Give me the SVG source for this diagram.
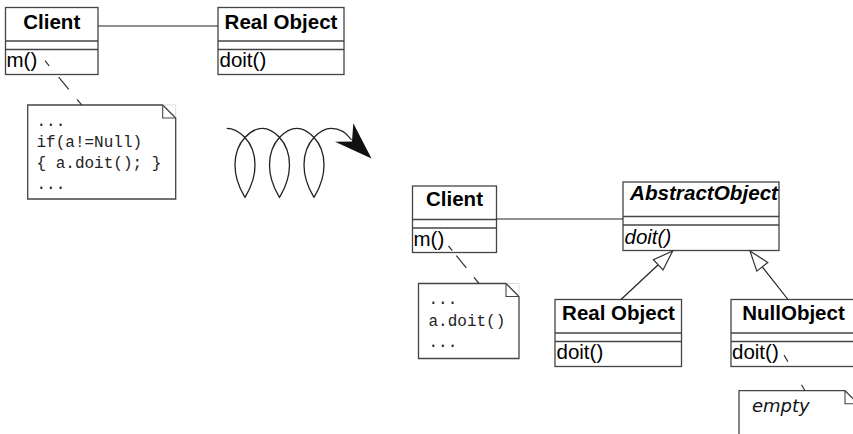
<svg xmlns="http://www.w3.org/2000/svg" width="853" height="434" viewBox="0 0 853 434">
<style>
.box{fill:#fff;stroke:#444;stroke-width:1.3}
.sep{stroke:#444;stroke-width:1.3}
.title{font-family:"Liberation Sans",Arial,sans-serif;font-weight:bold;font-size:20.5px;fill:#000;text-anchor:middle}
.meth{font-family:"Liberation Sans",Arial,sans-serif;font-size:20.5px;fill:#000}
.note{fill:#fff;stroke:#444;stroke-width:1.3}
.fold{fill:none;stroke:#444;stroke-width:1.1}
.faint{fill:none;stroke:#ddd;stroke-width:1}
.code{font-family:"Liberation Mono","Courier New",monospace;font-size:16px;fill:#222}
.assoc{stroke:#222;stroke-width:1.2;fill:none}
.dash{stroke:#333;stroke-width:1.2;fill:none}
.gen{fill:#fff;stroke:#333;stroke-width:1.2}
</style>

<g id="client-top">
<rect class="box" x="5.5" y="7.5" width="92.5" height="67"/>
<line class="sep" x1="5.5" y1="41" x2="98" y2="41"/>
<line class="sep" x1="5.5" y1="49.5" x2="98" y2="49.5"/>
<text class="title" x="51.75" y="28.5">Client</text>
<text class="meth" x="6.5" y="66.5">m()</text>
</g>

<g id="realobject-top">
<rect class="box" x="218" y="7.5" width="126" height="67"/>
<line class="sep" x1="218" y1="41" x2="344" y2="41"/>
<line class="sep" x1="218" y1="49.5" x2="344" y2="49.5"/>
<text class="title" x="281" y="28.5">Real Object</text>
<text class="meth" x="219.5" y="66.5">doit()</text>
</g>

<g id="note-top">
<path class="note" d="M27.7,105 H162.7 L175.7,118 V199 H27.7 Z"/>
<path class="faint" d="M163.5,105 H175.7 V117"/>
<path class="fold" d="M162.7,105 V118 H175.7"/>
<text class="code" x="36.5" y="125.5">...</text>
<text class="code" x="36.5" y="146.5">if(a!=Null)</text>
<text class="code" x="36.5" y="167.5">{ a.doit(); }</text>
<text class="code" x="36.5" y="188.5">...</text>
</g>

<g id="transform-arrow">
<path fill="none" stroke="#222" stroke-width="1.3" d="M226.7,128.3 C237,128.3 255,140 255,165 C255,182 248,192 245,197.3 C242,192 235,182 235,165 C235,140 253,128.3 262.25,128.3 C271.5,128.3 289.5,140 289.5,165 C289.5,182 282.5,192 279.5,197.3 C276.5,192 269.5,182 269.5,165 C269.5,140 287.5,128.3 296.75,128.3 C306,128.3 324,140 324,165 C324,182 317,192 314,197.3 C311,192 304,182 304,165 C304,140 322,128.3 331.25,128.3 C341,128.3 347.5,134 351.5,140"/>
<polygon fill="#111" points="371.5,158.5 353.3,123.3 352,141.5 335,141.7"/>
</g>

<g id="client-bottom">
<rect class="box" x="412.5" y="186" width="84" height="66.5"/>
<line class="sep" x1="412.5" y1="219.5" x2="496.5" y2="219.5"/>
<line class="sep" x1="412.5" y1="228" x2="496.5" y2="228"/>
<text class="title" x="454.5" y="206">Client</text>
<text class="meth" x="413.5" y="246">m()</text>
</g>

<g id="abstractobject">
<rect class="box" x="623" y="182" width="156" height="68.5"/>
<line class="sep" x1="623" y1="216.5" x2="779" y2="216.5"/>
<line class="sep" x1="623" y1="225" x2="779" y2="225"/>
<text class="title" x="630" y="200" textLength="148" lengthAdjust="spacingAndGlyphs" style="text-anchor:start;font-style:italic">AbstractObject</text>
<text class="meth" x="624.5" y="244" style="font-style:italic">doit()</text>
</g>

<g id="realobject-bottom">
<rect class="box" x="555" y="299.5" width="126.5" height="67"/>
<line class="sep" x1="555" y1="333" x2="681.5" y2="333"/>
<line class="sep" x1="555" y1="341.5" x2="681.5" y2="341.5"/>
<text class="title" x="618.5" y="320">Real Object</text>
<text class="meth" x="556.5" y="358.5">doit()</text>
</g>

<g id="nullobject">
<rect class="box" x="731" y="299.5" width="126" height="67"/>
<line class="sep" x1="731" y1="333" x2="857" y2="333"/>
<line class="sep" x1="731" y1="341.5" x2="857" y2="341.5"/>
<text class="title" x="793.5" y="320">NullObject</text>
<text class="meth" x="732" y="358.5">doit()</text>
</g>

<g id="note-bottom">
<path class="note" d="M418.5,283.5 H506 L519,296.5 V358.5 H418.5 Z"/>
<path class="faint" d="M506.8,283.5 H519 V295.5"/>
<path class="fold" d="M506,283.5 V296.5 H519"/>
<text class="code" x="428.5" y="304">...</text>
<text class="code" x="428.5" y="326">a.doit()</text>
<text class="code" x="428.5" y="347">...</text>
</g>

<g id="note-empty">
<path class="note" d="M739,440 V390.7 H845 L858,403.7 V440 Z"/>
<path class="fold" d="M845,390.7 V403.7 H858"/>
<text x="752" y="411.5" style="font-family:'DejaVu Sans',sans-serif;font-style:italic;font-size:18px;fill:#111">empty</text>
</g>

<g id="connectors">
<line class="assoc" x1="98" y1="26" x2="218" y2="26"/>
<line class="assoc" x1="496.5" y1="219" x2="623" y2="219"/>
<path class="dash" d="M45,60.7 L81.7,105" stroke-dasharray="6.6 14.8 15.9 12.8 7.4"/>
<path class="dash" d="M448.5,246 L479,283.5" stroke-dasharray="6 6.4 15.8 12.2 8"/>
<path class="dash" d="M784,355 L805,390.7" stroke-dasharray="7.7 26.8 7"/>
<line class="assoc" x1="621" y1="299.5" x2="658.2" y2="264.8"/>
<polygon class="gen" points="672.7,251 663,269.9 653.4,259.7"/>
<line class="assoc" x1="788" y1="299.5" x2="762.3" y2="266.8"/>
<polygon class="gen" points="750,251 767.8,262.5 756.8,271.1"/>
</g>
</svg>
